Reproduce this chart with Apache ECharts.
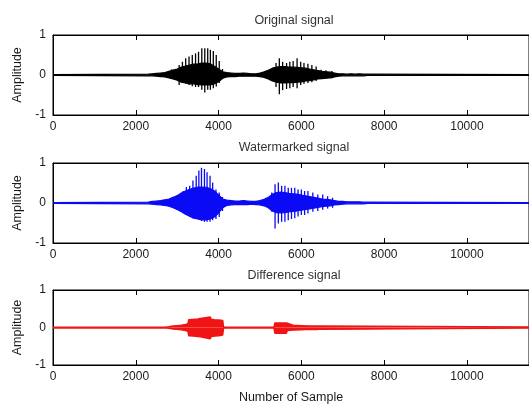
<!DOCTYPE html>
<html>
<head>
<meta charset="utf-8">
<script src="https://cdn.jsdelivr.net/npm/echarts@6/dist/echarts.min.js"></script>
<style>html,body{margin:0;padding:0;background:#fff;}#c{width:529px;height:405px;}</style>
</head>
<body>
<div id="c"></div>
<script>
// ---- data ----
const titles = ['Original signal', 'Watermarked signal', 'Difference signal'];
const xName = 'Number of Sample';
const yName = 'Amplitude';
const xMax = 11500;

// dense envelope (upper / lower) sampled every 100 samples in the active part
const envX = [0, 2300,2400,2500,2600,2700,2800,2900,3000,3100,3200,3300,3400,3500,3600,3700,3800,3900,4000,
  4100,4200,4300,4400,4500,4600,4700,4800,4900,5000,5100,
  5200,5300,5400,5500,5600,5700,5800,5900,6000,6100,6200,6300,6400,6500,6600,6700,6800,6900,7000,7100,7200,7300,7400,7500,7600, 11500];

const origUp = [0.01, 0.02,0.03,0.04,0.05,0.06,0.09,0.12,0.15,0.2,0.22,0.25,0.27,0.28,0.3,0.3,0.28,0.22,0.15,
  0.08,0.06,0.05,0.04,0.04,0.05,0.04,0.03,0.03,0.05,0.08,
  0.12,0.17,0.2,0.21,0.21,0.2,0.2,0.19,0.18,0.17,0.15,0.13,0.11,0.09,0.08,0.07,0.05,0.03,0.03,0.02,0.03,0.02,0.03,0.02,0.02, 0.01];
const origDown = [-0.01, -0.02,-0.02,-0.03,-0.04,-0.05,-0.07,-0.1,-0.13,-0.18,-0.2,-0.22,-0.22,-0.24,-0.25,-0.25,-0.25,-0.22,-0.17,
  -0.08,-0.05,-0.04,-0.04,-0.03,-0.03,-0.03,-0.03,-0.03,-0.04,-0.06,
  -0.1,-0.15,-0.18,-0.2,-0.2,-0.19,-0.19,-0.18,-0.17,-0.15,-0.14,-0.12,-0.1,-0.09,-0.08,-0.07,-0.05,-0.03,-0.02,-0.02,-0.02,-0.02,-0.02,-0.02,-0.01, -0.01];

const wmUp = [0.01, 0.02,0.04,0.05,0.06,0.08,0.1,0.14,0.18,0.25,0.3,0.34,0.37,0.4,0.4,0.39,0.36,0.3,0.2,
  0.1,0.07,0.06,0.05,0.05,0.06,0.05,0.04,0.04,0.06,0.09,
  0.14,0.22,0.26,0.27,0.26,0.24,0.23,0.22,0.2,0.18,0.16,0.14,0.12,0.1,0.09,0.08,0.06,0.04,0.04,0.03,0.03,0.03,0.03,0.02,0.02, 0.01];
const wmDown = [-0.01, -0.02,-0.03,-0.04,-0.05,-0.06,-0.08,-0.12,-0.16,-0.22,-0.28,-0.33,-0.38,-0.4,-0.42,-0.42,-0.4,-0.35,-0.25,
  -0.12,-0.06,-0.05,-0.04,-0.04,-0.04,-0.04,-0.03,-0.04,-0.05,-0.07,
  -0.12,-0.2,-0.24,-0.25,-0.24,-0.22,-0.21,-0.2,-0.18,-0.16,-0.15,-0.13,-0.11,-0.09,-0.08,-0.07,-0.05,-0.04,-0.03,-0.02,-0.02,-0.02,-0.02,-0.02,-0.01, -0.01];

// difference signal envelope (block shaped)
const diffX = [0, 2700, 2800, 2900, 3000, 3100, 3200, 3260, 3280, 3400, 3500, 3560, 3580, 3800, 3820, 3900, 4000, 4100, 4120, 4200,
  5340, 5360, 5640, 5660, 5800, 6000, 6200, 6400, 6430, 11500];
const diffUp = [0.01, 0.01, 0.02, 0.04, 0.05, 0.06, 0.08, 0.1, 0.21, 0.22, 0.23, 0.24, 0.28, 0.28, 0.22, 0.21, 0.2, 0.19, 0.01, 0.01,
  0.01, 0.12, 0.12, 0.07, 0.06, 0.05, 0.04, 0.04, 0.01, 0.01];
const diffDown = [-0.01, -0.01, -0.02, -0.04, -0.05, -0.06, -0.08, -0.1, -0.22, -0.23, -0.24, -0.25, -0.3, -0.3, -0.24, -0.23, -0.22, -0.2, -0.01, -0.01,
  -0.01, -0.15, -0.15, -0.08, -0.07, -0.06, -0.05, -0.05, -0.01, -0.01];

// individual pitch spikes
const origSpikeX = [2865,2960,3048,3127,3206,3286,3365,3444,3516,3595,3667,3738,3802,3873,3944,4016,4095,
  5286,5389,5468,5548,5643,5722,5802,5897,5984,6063,6159,6254,6357,6476,6595,6738];
const origSpikeUp = [0.14,0.12,0.25,0.33,0.42,0.46,0.5,0.54,0.58,0.67,0.67,0.67,0.63,0.6,0.5,0.35,0.15,
  0.15,0.3,0.42,0.33,0.3,0.33,0.35,0.42,0.33,0.3,0.28,0.25,0.21,0.13,0.12,0.1];
const origSpikeDown = [-0.08,-0.12,-0.25,-0.2,-0.22,-0.25,-0.28,-0.3,-0.3,-0.37,-0.44,-0.37,-0.37,-0.33,-0.29,-0.2,-0.1,
  -0.15,-0.3,-0.48,-0.38,-0.35,-0.33,-0.3,-0.33,-0.25,-0.22,-0.2,-0.18,-0.15,-0.1,-0.09,-0.08];

const wmSpikeX = [2984,3063,3143,3222,3302,3381,3460,3524,3587,3659,3722,3794,3857,3937,4016,4095,
  5286,5365,5444,5524,5603,5683,5762,5841,5921,6000,6079,6159,6278,6397,6516,6635,6754];
const wmSpikeUp = [0.19,0.2,0.3,0.4,0.43,0.56,0.68,0.81,0.88,0.85,0.77,0.68,0.51,0.34,0.26,0.15,
  0.26,0.47,0.51,0.43,0.43,0.38,0.38,0.38,0.34,0.34,0.3,0.3,0.26,0.21,0.21,0.17,0.13];
const wmSpikeDown = [-0.17,-0.17,-0.25,-0.3,-0.35,-0.38,-0.4,-0.42,-0.45,-0.47,-0.47,-0.47,-0.43,-0.4,-0.35,-0.2,
  -0.22,-0.64,-0.51,-0.47,-0.47,-0.43,-0.4,-0.38,-0.34,-0.3,-0.3,-0.26,-0.22,-0.2,-0.17,-0.14,-0.12];

// ---- chart ----
const colors = ['#000000', '#0a0af5', '#f01414'];
const gridTops = [35, 163, 290];
const gridH = [80, 80, 79];
const titleY = [21, 148, 276];
const FONT = 'Liberation Sans, Arial, Helvetica, sans-serif';

const pair = (xs, ys) => xs.map((x, i) => [x, ys[i]]);

const envs = [
  {x: envX, up: origUp, dn: origDown},
  {x: envX, up: wmUp, dn: wmDown},
  {x: diffX, up: diffUp, dn: diffDown}
];
const spikes = [
  {x: origSpikeX, up: origSpikeUp, dn: origSpikeDown},
  {x: wmSpikeX, up: wmSpikeUp, dn: wmSpikeDown},
  null
];

const grid = [], xAxis = [], yAxis = [], series = [], graphic = [];
for (let k = 0; k < 3; k++) {
  grid.push({left: 53, top: gridTops[k], width: Math.round(xMax * 0.042), height: gridH[k],
    show: true, borderColor: '#000', borderWidth: 1, backgroundColor: '#fff'});
  xAxis.push({
    gridIndex: k, type: 'value', min: 0, max: xMax, interval: 2000,
    axisLine: {onZero: false, lineStyle: {color: '#000', width: 1}},
    axisTick: {inside: true, length: 5, lineStyle: {color: '#000'}},
    axisLabel: {color: '#1a1a1a', fontSize: 12, fontFamily: FONT, margin: 6, showMaxLabel: false,
      formatter: v => String(v)},
    splitLine: {show: false},
    name: k === 2 ? xName : '', nameLocation: 'middle', nameGap: 26,
    nameTextStyle: {color: '#1a1a1a', fontSize: 12.5, fontFamily: FONT}
  });
  xAxis.push({
    gridIndex: k, type: 'value', min: 0, max: xMax, interval: 2000, position: 'top',
    axisLine: {show: true, onZero: false, lineStyle: {color: '#000'}},
    axisTick: {inside: true, length: 5, lineStyle: {color: '#000'}},
    axisLabel: {show: false}, splitLine: {show: false}
  });
  yAxis.push({
    gridIndex: k, type: 'value', min: -1, max: 1, interval: 1,
    axisLine: {show: true, lineStyle: {color: '#000'}},
    axisTick: {inside: true, length: 5, lineStyle: {color: '#000'}},
    axisLabel: {color: '#1a1a1a', fontSize: 12, fontFamily: FONT, margin: 7},
    splitLine: {show: false},
    name: yName, nameLocation: 'middle', nameGap: 22, nameRotate: 90,
    nameTextStyle: {color: '#1a1a1a', fontSize: 12.5, fontFamily: FONT}
  });
  const e = envs[k];
  const col = colors[k];
  const lw = k === 2 ? 1.5 : 1.2;
  series.push({
    type: 'line', xAxisIndex: 2 * k, yAxisIndex: k, data: pair(e.x, e.up),
    symbol: 'none', lineStyle: {color: col, width: lw}, areaStyle: {color: col, opacity: 1, origin: 0},
    silent: true, animation: false
  });
  series.push({
    type: 'line', xAxisIndex: 2 * k, yAxisIndex: k, data: pair(e.x, e.dn),
    symbol: 'none', lineStyle: {color: col, width: lw}, areaStyle: {color: col, opacity: 1, origin: 0},
    silent: true, animation: false
  });
  const s = spikes[k];
  if (s) {
    series.push({
      type: 'bar', xAxisIndex: 2 * k, yAxisIndex: k, stack: 'sp' + k, data: pair(s.x, s.up),
      barWidth: 1.3, itemStyle: {color: col}, silent: true, animation: false
    });
    series.push({
      type: 'bar', xAxisIndex: 2 * k, yAxisIndex: k, stack: 'sp' + k, data: pair(s.x, s.dn),
      barWidth: 1.3, itemStyle: {color: col}, silent: true, animation: false
    });
  }
  graphic.push({
    type: 'text', x: 294, y: titleY[k],
    style: {text: titles[k], fill: '#333', font: '12.5px ' + FONT, textAlign: 'center', textVerticalAlign: 'middle'}
  });
}

const chart = echarts.init(document.getElementById('c'), null, {renderer: 'canvas'});
chart.setOption({
  backgroundColor: '#ffffff',
  animation: false,
  grid, xAxis, yAxis, series, graphic
});
</script>
</body>
</html>
